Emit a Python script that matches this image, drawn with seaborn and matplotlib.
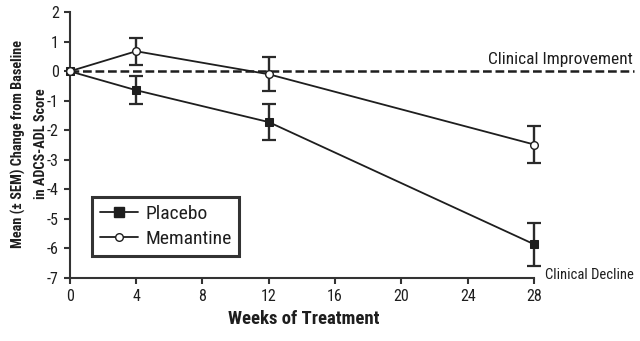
import matplotlib
matplotlib.use("Agg")
import matplotlib.pyplot as plt
import seaborn as sns
import pandas as pd
from matplotlib.lines import Line2D
from matplotlib import font_manager

weeks = [0, 4, 12, 28]
placebo_mean = [0.0, -0.64, -1.72, -5.86]
placebo_sem = [0.0, 0.47, 0.60, 0.73]
memantine_mean = [0.0, 0.68, -0.10, -2.48]
memantine_sem = [0.0, 0.45, 0.57, 0.63]
x_ticks = [0, 4, 8, 12, 16, 20, 24, 28]
y_ticks = [2, 1, 0, -1, -2, -3, -4, -5, -6, -7]

sns.set_theme(style="white")
names = {f.name for f in font_manager.fontManager.ttflist}
fam = "Roboto Condensed" if "Roboto Condensed" in names else "Liberation Sans"
plt.rcParams["font.family"] = [fam, "DejaVu Sans"]
plt.rcParams["axes.unicode_minus"] = False

INK = "#1e1e1e"

df = pd.DataFrame({
    "week": weeks + weeks,
    "mean": placebo_mean + memantine_mean,
    "group": ["Placebo"] * len(weeks) + ["Memantine"] * len(weeks),
})

fig = plt.figure(figsize=(6.4, 3.41), dpi=100)
ax = fig.add_axes([0.109, 0.185, 0.881, 0.779])

ax.axhline(0, color=INK, lw=1.8, ls=(0, (3.5, 1.5)), zorder=1, clip_on=False)

sns.lineplot(data=df, x="week", y="mean", hue="group", style="group",
             palette={"Placebo": INK, "Memantine": INK},
             markers={"Placebo": "s", "Memantine": "o"},
             dashes={"Placebo": "", "Memantine": ""},
             lw=1.3, markersize=5.5, legend=False, ax=ax, zorder=3, clip_on=False)
for line in ax.lines:
    if line.get_marker() == "o":
        line.set_markerfacecolor("white")
        line.set_markeredgecolor(INK)
        line.set_markeredgewidth(1.0)
    elif line.get_marker() == "s":
        line.set_markerfacecolor(INK)
        line.set_markeredgecolor(INK)

ax.errorbar(weeks[1:], placebo_mean[1:], yerr=placebo_sem[1:], fmt="none",
            ecolor="#2a2a2a", elinewidth=1.7, capsize=5, capthick=1.6, zorder=2)
ax.errorbar(weeks[1:], memantine_mean[1:], yerr=memantine_sem[1:], fmt="none",
            ecolor="#2a2a2a", elinewidth=1.7, capsize=5, capthick=1.6, zorder=2)

ax.set_xlim(0, 34)
ax.set_ylim(-7, 2)
ax.set_xticks(x_ticks)
ax.set_yticks(y_ticks)
ax.tick_params(axis="both", direction="out", length=4, width=1.5, color="#333333",
               labelsize=11.5, labelcolor=INK, pad=4, left=True, bottom=True)
for s in ["top", "right"]:
    ax.spines[s].set_visible(False)
ax.spines["left"].set_bounds(-7, 2)
ax.spines["bottom"].set_bounds(0, 28)
for s in ["left", "bottom"]:
    ax.spines[s].set_color("#333333")
    ax.spines[s].set_linewidth(1.5)

ax.set_xlabel("Weeks of Treatment", fontsize=13.5, fontweight="bold", color=INK)
ax.xaxis.set_label_coords(0.415, -0.122)
ax.xaxis.label.set_va("top")
ax.set_ylabel("Mean (± SEM) Change from Baseline\nin ADCS-ADL Score", fontsize=10.3,
              fontweight="bold", color=INK, linespacing=1.75)
ax.yaxis.set_label_coords(-0.038, 0.505)

ax.text(33.97, 0.25, "Clinical Improvement", ha="right", va="baseline",
        fontsize=12.5, color=INK, clip_on=False)
ax.text(28.66, -6.9, "Clinical Decline", ha="left", va="center", fontsize=10.5,
        color=INK, clip_on=False)

handles = [
    Line2D([], [], color=INK, lw=1.3, marker="s", markersize=6.5,
           markerfacecolor=INK, markeredgecolor=INK),
    Line2D([], [], color=INK, lw=1.3, marker="o", markersize=5.5,
           markerfacecolor="white", markeredgecolor=INK),
]
leg = ax.legend(handles, ["Placebo", "Memantine"], loc="upper left",
                bbox_to_anchor=(0.039, 0.305), fontsize=14, frameon=True,
                fancybox=False, edgecolor="black", handlelength=2.0,
                handletextpad=0.35, borderpad=0.4, labelspacing=0.38,
                borderaxespad=0)
leg.get_frame().set_linewidth(2.2)
for t in leg.get_texts():
    t.set_color(INK)

fig.savefig("out.png", dpi=100)
